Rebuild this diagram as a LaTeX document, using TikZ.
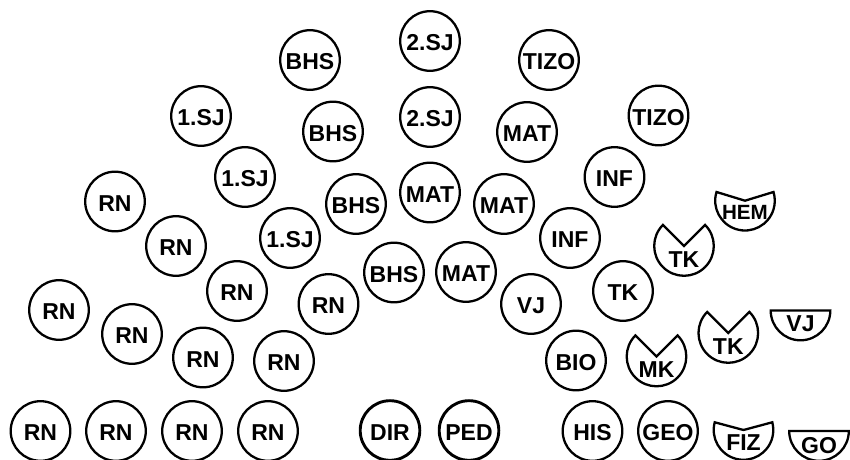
\documentclass[tikz,border=0pt]{standalone}
\usepackage{fontspec}
\setmainfont{Liberation Sans}
\newcommand\wedgeshape[5]{%
  \coordinate (#1) at (#2,#3);
  \draw[shp] (#1) -- ++(#5:29.8) arc[start angle=#5, end angle=#4+360, radius=29.8] -- cycle;}
\newcommand\halfdisc[3]{%
  \coordinate (#1) at (#2,#3);
  \draw[shp] ([xshift=-29.8bp]#1) arc[start angle=180, end angle=360, radius=29.8] -- cycle;}
\begin{document}
\begin{tikzpicture}[x=1bp,y=1bp,
  lblfont/.style={font=\fontsize{23bp}{23bp}\selectfont\bfseries},
  disc/.style={circle,draw,line width=2.3bp,minimum size=59.6bp,inner sep=0pt,lblfont,text height=19.8bp,text depth=0pt},
  thickdisc/.style={disc,line width=2.9bp},
  lbl/.style={inner sep=0pt,lblfont,text height=19.8bp,text depth=0pt},
  smalllbl/.style={lbl,font=\fontsize{20.6bp}{20.6bp}\selectfont\bfseries},
  shp/.style={draw,line width=2.3bp,line join=miter}]
\useasboundingbox (0,-460) rectangle (850,0);
% bottom row
\node[disc] (r1) at (40.5,-431) {RN};
\node[disc] (r2) at (116,-431) {RN};
\node[disc] (r3) at (192,-431) {RN};
\node[disc] (r4) at (268,-431) {RN};
\node[thickdisc] (dir) at (390,-430.5) {DIR};
\node[thickdisc] (ped) at (469,-430.5) {PED};
\node[disc] (his) at (592.5,-431) {HIS};
\node[disc] (geo) at (668,-431) {GEO};
% RN group
\node[disc] (r5) at (59,-310) {RN};
\node[disc] (r6) at (132,-334) {RN};
\node[disc] (r7) at (203,-357.5) {RN};
\node[disc] (r8) at (284,-361) {RN};
\node[disc] (r9) at (237,-291) {RN};
\node[disc] (r10) at (328.5,-304) {RN};
\node[disc] (r11) at (115,-201.5) {RN};
\node[disc] (r12) at (176,-246) {RN};
% 1.SJ
\node[disc] (sa1) at (201,-116) {1.SJ};
\node[disc] (sa2) at (245,-177) {1.SJ};
\node[disc] (sa3) at (290,-238) {1.SJ};
% BHS
\node[disc] (b1) at (310,-60) {BHS};
\node[disc] (b2) at (333,-131.5) {BHS};
\node[disc] (b3) at (356,-204) {BHS};
\node[disc] (b4) at (394,-272.5) {BHS};
% 2.SJ
\node[disc] (sb1) at (430,-41) {2.SJ};
\node[disc] (sb2) at (430,-117) {2.SJ};
% MAT
\node[disc] (m1) at (430,-192.5) {MAT};
\node[disc] (m2) at (504,-204) {MAT};
\node[disc] (m3) at (466,-272) {MAT};
\node[disc] (m4) at (527,-132) {MAT};
% right group
\node[disc] (t1) at (549,-60) {TIZO};
\node[disc] (t2) at (658.5,-115.5) {TIZO};
\node[disc] (i1) at (614.5,-177) {INF};
\node[disc] (i2) at (570,-238) {INF};
\node[disc] (vj) at (531,-304) {VJ};
\node[disc] (tk) at (623,-291) {TK};
\node[disc] (bio) at (576,-360.5) {BIO};
% special shapes
\wedgeshape{hem}{745}{-200.7}{17}{163}
\node[smalllbl] (hemt) at ([yshift=-9.3bp]hem) {HEM};
\wedgeshape{tka}{684}{-246}{45}{135}
\node[lbl] (tkat) at ([yshift=-11.3bp]tka) {TK};
\wedgeshape{mk}{656.5}{-356.5}{45}{135}
\node[lbl] (mkt) at ([yshift=-11.3bp]mk) {MK};
\wedgeshape{tkb}{728.3}{-333}{45}{135}
\node[lbl] (tkbt) at ([yshift=-11.3bp]tkb) {TK};
\halfdisc{vjb}{800.5}{-310.5}
\node[lbl] (vjbt) at ([yshift=-11.6bp]vjb) {VJ};
\wedgeshape{fiz}{743.5}{-430}{15}{165}
\node[lbl] (fizt) at ([yshift=-10.8bp]fiz) {FIZ};
\halfdisc{go}{819}{-431}
\node[lbl] (got) at ([yshift=-12.3bp]go) {GO};
\end{tikzpicture}
\end{document}
